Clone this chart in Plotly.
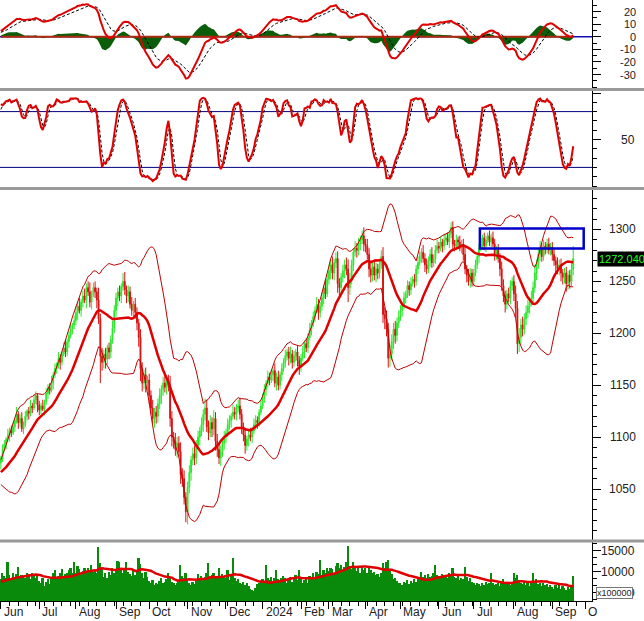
import numpy as np
import pandas as pd
import plotly.graph_objects as go

# ------------------------------------------------------------------ data
# daily closes (index points); warm-up bars precede the visible window
close_warmup = [1050, 1046, 1040, 1044, 1052, 1048, 1055, 1047, 1043, 1049,
                1056, 1050, 1058, 1062, 1057, 1063, 1066, 1060, 1067, 1064,
                1069, 1061, 1056, 1063, 1060, 1067, 1064, 1071, 1066, 1059,
                1064, 1058, 1066, 1063, 1069, 1072, 1066, 1071, 1074, 1075]
close_2023_06 = [1079, 1088, 1093, 1098, 1102, 1106, 1104, 1110, 1116, 1122, 1114,
                 1118, 1108, 1112, 1120, 1125, 1123, 1130, 1128, 1136, 1140, 1131]
close_2023_07 = [1126, 1130, 1127, 1134, 1142, 1148, 1145, 1152, 1160, 1166, 1170,
                 1176, 1172, 1180, 1186, 1182, 1192, 1198, 1204, 1208, 1212]
close_2023_08 = [1220, 1226, 1222, 1230, 1236, 1232, 1244, 1240, 1230, 1238, 1244, 1240,
                 1232, 1214, 1178, 1172, 1180, 1175, 1186, 1182, 1194, 1205, 1222]
close_2023_09 = [1234, 1240, 1236, 1245, 1250, 1242, 1236, 1240, 1228, 1222,
                 1228, 1220, 1210, 1196, 1166, 1152, 1160, 1152, 1155]
close_2023_10 = [1140, 1128, 1118, 1124, 1120, 1132, 1140, 1146, 1152, 1148, 1154,
                 1150, 1118, 1100, 1096, 1088, 1094, 1086, 1064, 1060, 1042, 1028]
close_2023_11 = [1052, 1066, 1078, 1084, 1080, 1092, 1100, 1106, 1112, 1122, 1128,
                 1110, 1104, 1114, 1108, 1118, 1096, 1088, 1080, 1086, 1094, 1100]
close_2023_12 = [1104, 1112, 1116, 1120, 1124, 1122, 1128, 1130, 1122, 1110, 1102,
                 1092, 1098, 1102, 1100, 1106, 1112, 1116, 1114, 1124, 1130]
close_2024_01 = [1138, 1146, 1152, 1158, 1155, 1160, 1164, 1152, 1158, 1150, 1160,
                 1166, 1172, 1178, 1182, 1176, 1180, 1172, 1178, 1182, 1174, 1168]
close_2024_02 = [1176, 1182, 1190, 1186, 1196, 1204, 1210, 1216, 1222, 1228, 1220,
                 1226, 1234, 1244, 1238, 1252]
close_2024_03 = [1260, 1266, 1258, 1268, 1272, 1248, 1244, 1254, 1260, 1266, 1262,
                 1244, 1252, 1266, 1278, 1282, 1280, 1286, 1290, 1294, 1286]
close_2024_04 = [1284, 1276, 1262, 1256, 1264, 1256, 1262, 1258, 1266, 1274,
                 1218, 1214, 1204, 1176, 1180, 1192, 1204, 1198, 1210, 1216]
close_2024_05 = [1222, 1226, 1234, 1238, 1246, 1242, 1248, 1252, 1250, 1262, 1268,
                 1274, 1278, 1272, 1266, 1262, 1270, 1276, 1268, 1272, 1280, 1284]
close_2024_06 = [1282, 1288, 1284, 1290, 1292, 1288, 1296, 1302, 1286, 1284,
                 1290, 1288, 1282, 1286, 1276, 1262, 1256, 1250, 1258, 1250]
close_2024_07 = [1258, 1266, 1274, 1282, 1286, 1292, 1284, 1290, 1294, 1288, 1292, 1286,
                 1276, 1280, 1272, 1262, 1246, 1236, 1228, 1238, 1234, 1246, 1250]
close_2024_08 = [1238, 1224, 1190, 1196, 1208, 1204, 1214, 1220, 1226, 1230, 1234,
                 1244, 1258, 1266, 1276, 1282, 1274, 1284, 1282, 1286, 1280, 1283]
close_2024_09 = [1276, 1270, 1266, 1262, 1266, 1258, 1254, 1258, 1248, 1256, 1250,
                 1262, 1272.04]

# intraday wick beyond the candle body (points): upper / lower
uw_warmup = [4, 3, 5, 2, 6, 3, 4, 5, 3, 2, 4, 6, 3, 5, 4, 2, 5, 3, 4, 6,
             3, 5, 4, 2, 6, 3, 4, 5, 3, 4, 2, 5, 4, 3, 6, 4, 3, 5, 2, 4]
lw_warmup = [3, 5, 2, 6, 4, 3, 5, 2, 4, 6, 3, 2, 5, 4, 3, 6, 2, 4, 5, 3,
             4, 2, 6, 3, 5, 4, 2, 3, 6, 4, 5, 3, 2, 4, 3, 5, 4, 2, 3, 5]
uw_2023_06 = [3, 5, 4, 2, 6, 3, 5, 4, 2, 7, 3, 4, 6, 3, 5, 2, 4, 6, 3, 5, 4, 2]
lw_2023_06 = [6, 3, 2, 5, 3, 6, 4, 2, 5, 3, 6, 4, 3, 5, 2, 4, 6, 3, 5, 2, 4, 7]
uw_2023_07 = [4, 3, 6, 2, 5, 3, 4, 7, 3, 5, 2, 6, 4, 3, 5, 8, 3, 4, 6, 2, 5]
lw_2023_07 = [5, 4, 2, 6, 3, 5, 4, 2, 6, 3, 5, 4, 7, 3, 2, 5, 4, 6, 3, 5, 4]
uw_2023_08 = [6, 4, 8, 3, 5, 7, 4, 6, 9, 3, 5, 6, 4, 12, 5, 8, 4, 6, 3, 5, 4, 7, 5]
lw_2023_08 = [4, 7, 3, 6, 5, 3, 8, 4, 5, 7, 3, 6, 8, 5, 26, 8, 6, 9, 5, 7, 6, 4, 5]
uw_2023_09 = [5, 4, 6, 3, 8, 9, 4, 6, 5, 7, 3, 6, 5, 4, 8, 6, 5, 7, 4]
lw_2023_09 = [6, 8, 5, 7, 4, 5, 7, 6, 4, 5, 8, 6, 7, 9, 12, 8, 6, 9, 7]
uw_2023_10 = [6, 5, 8, 4, 6, 5, 7, 4, 6, 8, 5, 6, 9, 7, 5, 8, 6, 7, 9, 6, 8, 5]
lw_2023_10 = [8, 6, 5, 9, 7, 6, 5, 8, 6, 5, 7, 6, 8, 9, 7, 6, 8, 5, 9, 8, 7, 10]
uw_2023_11 = [5, 7, 4, 6, 8, 5, 6, 4, 7, 5, 9, 8, 6, 7, 5, 8, 6, 7, 5, 6, 4, 6]
lw_2023_11 = [12, 6, 8, 5, 7, 6, 4, 8, 5, 7, 6, 5, 7, 4, 8, 6, 9, 7, 6, 8, 5, 6]
uw_2023_12 = [4, 6, 5, 3, 7, 5, 4, 6, 8, 5, 4, 6, 3, 5, 7, 4, 6, 5, 4, 3, 5]
lw_2023_12 = [6, 4, 5, 7, 3, 5, 6, 4, 5, 7, 6, 8, 5, 7, 4, 6, 3, 5, 6, 4, 3]
uw_2024_01 = [4, 5, 3, 6, 4, 5, 3, 7, 4, 6, 3, 5, 4, 6, 3, 5, 7, 4, 5, 3, 6, 4]
lw_2024_01 = [3, 5, 6, 4, 5, 3, 6, 4, 7, 5, 4, 6, 3, 5, 4, 7, 5, 6, 4, 5, 6, 8]
uw_2024_02 = [4, 6, 3, 5, 4, 6, 3, 5, 4, 7, 5, 4, 6, 3, 8, 5]
lw_2024_02 = [5, 3, 6, 4, 5, 3, 6, 4, 5, 3, 7, 5, 4, 6, 5, 3]
uw_2024_03 = [6, 5, 8, 4, 6, 7, 5, 4, 6, 5, 7, 9, 6, 5, 4, 7, 5, 6, 4, 5, 8]
lw_2024_03 = [5, 8, 6, 7, 5, 9, 8, 6, 5, 7, 6, 14, 7, 5, 6, 4, 7, 5, 6, 4, 7]
uw_2024_04 = [5, 7, 6, 8, 5, 7, 6, 5, 4, 6, 9, 7, 8, 6, 9, 7, 6, 8, 5, 6]
lw_2024_04 = [6, 5, 8, 7, 6, 5, 7, 6, 5, 4, 8, 10, 7, 9, 8, 6, 7, 8, 6, 5]
uw_2024_05 = [5, 4, 6, 3, 5, 4, 6, 3, 5, 4, 6, 5, 4, 7, 5, 6, 4, 5, 7, 4, 5, 6]
lw_2024_05 = [4, 6, 3, 5, 4, 6, 5, 3, 6, 4, 5, 3, 6, 4, 7, 5, 4, 6, 5, 4, 5, 3]
uw_2024_06 = [4, 5, 3, 6, 4, 5, 3, 5, 6, 4, 5, 3, 6, 4, 5, 7, 4, 6, 5, 4]
lw_2024_06 = [5, 3, 6, 4, 5, 3, 6, 4, 7, 5, 4, 6, 3, 5, 6, 5, 7, 4, 6, 5]
uw_2024_07 = [4, 5, 3, 4, 6, 3, 5, 4, 3, 5, 4, 6, 5, 4, 6, 5, 7, 6, 5, 4, 6, 5, 4]
lw_2024_07 = [5, 3, 4, 6, 3, 5, 4, 6, 3, 4, 5, 3, 6, 5, 4, 7, 5, 6, 8, 5, 4, 6, 5]
uw_2024_08 = [6, 8, 7, 9, 6, 8, 5, 7, 6, 5, 7, 6, 8, 5, 6, 7, 5, 6, 4, 5, 6, 4]
lw_2024_08 = [7, 9, 10, 8, 6, 7, 5, 6, 5, 7, 4, 6, 5, 7, 4, 6, 5, 4, 6, 5, 4, 5]
uw_2024_09 = [5, 6, 4, 7, 5, 6, 4, 5, 6, 4, 5, 8, 12]
lw_2024_09 = [6, 5, 7, 5, 6, 8, 7, 6, 8, 6, 7, 5, 6]

# volume, in units of 100000 shares
vol_warmup = [7000, 7800, 6800, 7400, 8200, 7600, 7000, 8000, 7200, 7600,
              8400, 7400, 7800, 7000, 7600, 8200, 7400, 7800, 8000]
vol_2023_06 = [8200, 9800, 9000, 8600, 12400, 9200, 8400, 9600, 8800, 9400, 11100,
               8600, 9200, 9000, 8400, 9600, 9400, 8200, 9800, 9000, 8600, 9200]
vol_2023_07 = [7800, 7200, 8400, 6600, 7600, 8200, 7000, 8800, 9600, 10300, 8400,
               9000, 9800, 10600, 8600, 9400, 9800, 10400, 11000, 9600, 12200]
vol_2023_08 = [9800, 11400, 10600, 9400, 10200, 10800, 9600, 11000, 10200, 11600, 10000, 10400,
               9800, 16000, 12000, 10600, 8800, 9600, 8400, 10000, 9200, 10800, 9600]
vol_2023_09 = [10200, 12600, 12400, 10400, 9800, 11000, 12200, 10000, 9400, 9000,
               10600, 9200, 10400, 13300, 11800, 9800, 8600, 10000, 8800]
vol_2023_10 = [7800, 7200, 8000, 6800, 7400, 7000, 7800, 8400, 7200, 7600, 8200,
               9800, 8800, 7600, 7200, 6800, 7400, 8000, 11700, 9000, 8400, 9600]
vol_2023_11 = [8200, 7400, 6800, 7600, 7000, 7800, 9400, 8400, 9000, 8000, 8800,
               9600, 12100, 8600, 9200, 9800, 8400, 9000, 11000, 8600, 9400, 8800]
vol_2023_12 = [8400, 10300, 8000, 9000, 13300, 8600, 7800, 8200, 7400, 7000, 7600,
               6800, 7200, 6600, 6000, 5600, 5400, 6200, 7000, 7400, 7800]
vol_2024_01 = [8200, 7800, 11600, 8400, 8000, 8800, 7600, 8600, 10400, 8200, 7800,
               8400, 9000, 8600, 7400, 8200, 8800, 7600, 8400, 9200, 8000, 10500]
vol_2024_02 = [8600, 7400, 8000, 8800, 7200, 9000, 8400, 9600, 8800, 10000, 9400,
               12800, 9200, 10400, 9800, 10800]
vol_2024_03 = [10200, 11000, 10600, 9600, 11400, 12000, 10800, 11600, 10400, 11200, 12200,
               16100, 11400, 10600, 12400, 11000, 10200, 10800, 9800, 11200, 10400]
vol_2024_04 = [10800, 9800, 11200, 10400, 9600, 10000, 9200, 9400, 8800, 9600,
               12000, 11000, 12300, 12800, 10400, 9400, 8200, 8600, 7800, 7400]
vol_2024_05 = [7200, 6800, 7600, 7400, 8000, 7000, 7800, 7400, 8200, 7600, 8600,
               8400, 10000, 8800, 9200, 8600, 9400, 8800, 9000, 9800, 11600, 9200]
vol_2024_06 = [9000, 8600, 9400, 8800, 9200, 8400, 9600, 9000, 11000, 8800,
               8400, 9200, 8000, 8600, 8200, 11200, 8800, 7800, 8400, 7600]
vol_2024_07 = [7200, 6800, 7400, 7000, 6600, 7200, 6800, 7600, 7000, 7400, 9800, 7200,
               6800, 7000, 7400, 6600, 7800, 8200, 7400, 7000, 7600, 6800, 7200]
vol_2024_08 = [9800, 8600, 9200, 8000, 7400, 7000, 7600, 6800, 7200, 6600, 7400,
               9800, 7800, 8200, 7000, 7400, 6600, 7200, 6800, 7000, 6400, 6800]
vol_2024_09 = [6400, 6000, 6800, 6200, 7000, 5800, 6600, 6200, 5600, 6400, 6000,
               6800, 9000]

month_labels = ["Jun", "Jul", "Aug", "Sep", "Oct", "Nov", "Dec", "2024", "Feb",
                "Mar", "Apr", "May", "Jun", "Jul", "Aug", "Sep", "O"]
sep_days_after_last_bar = 6

macd_tick_values = [20, 10, 0, -10, -20, -30]
stoch_tick_values = [50]
price_tick_values = [1300, 1250, 1200, 1150, 1100, 1050]
volume_tick_values = [15000, 10000, 5000]
stoch_levels = [80, 20]
box_bars = [274.5, 334]          # highlighted resistance zone (bar index)
box_prices = [1281.7, 1301]
last_price_text = "1272.040"

# ------------------------------------------------------------------ series
close_months = [close_2023_06, close_2023_07, close_2023_08, close_2023_09, close_2023_10,
                close_2023_11, close_2023_12, close_2024_01, close_2024_02, close_2024_03,
                close_2024_04, close_2024_05, close_2024_06, close_2024_07, close_2024_08,
                close_2024_09]
uw_months = [uw_2023_06, uw_2023_07, uw_2023_08, uw_2023_09, uw_2023_10, uw_2023_11,
             uw_2023_12, uw_2024_01, uw_2024_02, uw_2024_03, uw_2024_04, uw_2024_05,
             uw_2024_06, uw_2024_07, uw_2024_08, uw_2024_09]
lw_months = [lw_2023_06, lw_2023_07, lw_2023_08, lw_2023_09, lw_2023_10, lw_2023_11,
             lw_2023_12, lw_2024_01, lw_2024_02, lw_2024_03, lw_2024_04, lw_2024_05,
             lw_2024_06, lw_2024_07, lw_2024_08, lw_2024_09]
vol_months = [vol_2023_06, vol_2023_07, vol_2023_08, vol_2023_09, vol_2023_10, vol_2023_11,
              vol_2023_12, vol_2024_01, vol_2024_02, vol_2024_03, vol_2024_04, vol_2024_05,
              vol_2024_06, vol_2024_07, vol_2024_08, vol_2024_09]

main_close = [v for m in close_months for v in m]
main_uw = [v for m in uw_months for v in m]
main_lw = [v for m in lw_months for v in m]
main_vol = [v for m in vol_months for v in m]
N = len(main_close)
month_starts = list(np.cumsum([0] + [len(m) for m in close_months]))
month_starts[-1] = N + sep_days_after_last_bar

c = pd.Series(close_warmup + main_close, dtype=float)
uw = pd.Series(uw_warmup + main_uw, dtype=float)
lw = pd.Series(lw_warmup + main_lw, dtype=float)
o = c.shift(1).fillna(c.iloc[0])
h = pd.concat([o, c], axis=1).max(axis=1) + uw
l = pd.concat([o, c], axis=1).min(axis=1) - lw

ema12 = c.ewm(span=12, adjust=False).mean()
ema26 = c.ewm(span=26, adjust=False).mean()
macd = ema12 - ema26
signal = macd.ewm(span=9, adjust=False).mean()
hist = macd - signal

mid = c.rolling(20).mean()
sd = c.rolling(20).std(ddof=0)
upper = mid + 2 * sd
lower = mid - 2 * sd

ll = l.rolling(14).min()
hh = h.rolling(14).max()
raw_k = (c - ll) / (hh - ll) * 100
k = raw_k.rolling(3).mean()
d = k.rolling(3).mean()

v = pd.Series(vol_warmup + main_vol, dtype=float)
vma = v.rolling(20).mean()


def tail(s):
    return s.iloc[-N:].to_numpy()


x = np.arange(N)

# ------------------------------------------------------------------ geometry
H_PLOT = 601.0
W_PLOT = 592.0


def py(p):
    return 1 - p / H_PLOT


GREEN = "#2ee62e"
RED = "#e00000"

fig = go.Figure()

# MACD panel
fig.add_trace(go.Scatter(x=x, y=tail(hist), mode="lines", line=dict(width=0, color="#0a5e0a"),
                         fill="tozeroy", fillcolor="#0a5e0a", yaxis="y", hoverinfo="skip"))
fig.add_trace(go.Scatter(x=x, y=np.zeros(N), mode="lines", line=dict(color="#b02a10", width=2),
                         yaxis="y", hoverinfo="skip"))
fig.add_trace(go.Scatter(x=x, y=tail(signal), mode="lines",
                         line=dict(color="black", width=1, dash="3px,2px"), yaxis="y"))
fig.add_trace(go.Scatter(x=x, y=tail(macd), mode="lines", line=dict(color=RED, width=2), yaxis="y"))

# Stochastic panel
fig.add_trace(go.Scatter(x=x, y=tail(d), mode="lines",
                         line=dict(color="black", width=1, dash="3px,2px"), yaxis="y2"))
fig.add_trace(go.Scatter(x=x, y=tail(k), mode="lines", line=dict(color=RED, width=2), yaxis="y2"))

# Price panel
fig.add_trace(go.Scatter(x=x, y=tail(upper), mode="lines", line=dict(color="#c00000", width=1), yaxis="y3"))
fig.add_trace(go.Scatter(x=x, y=tail(lower), mode="lines", line=dict(color="#c00000", width=1), yaxis="y3"))
fig.add_trace(go.Candlestick(x=x, open=tail(o), high=tail(h), low=tail(l), close=tail(c),
                             increasing=dict(line=dict(color=GREEN, width=1), fillcolor=GREEN),
                             decreasing=dict(line=dict(color="#d81010", width=1), fillcolor="#d81010"),
                             whiskerwidth=0, yaxis="y3", hoverinfo="skip"))
fig.add_trace(go.Scatter(x=x, y=tail(mid), mode="lines", line=dict(color=RED, width=2.5), yaxis="y3"))

# Volume panel
fig.add_trace(go.Bar(x=x, y=tail(v), marker=dict(color="#0a8a0a", line=dict(width=0)),
                     width=1.0, yaxis="y4", hoverinfo="skip"))
fig.add_trace(go.Scatter(x=x, y=tail(vma), mode="lines", line=dict(color=RED, width=2.5), yaxis="y4"))

# ------------------------------------------------------------------ axes
px_per_bar = 1.745
x_range = [-0.5, -0.5 + W_PLOT / px_per_bar]

axis_common = dict(side="right", anchor="x", showgrid=False, zeroline=False,
                   showline=True, linecolor="black", linewidth=1,
                   ticks="outside", tickcolor="black", ticklen=8, showticklabels=False,
                   fixedrange=True)

macd_dom = [py(88), 1.0]
macd_rng = [-(88 - 36.7) / 1.26, 36.7 / 1.26]
st_dom = [py(187), py(90)]
st_rng = [(186 - 187) / 0.93, (186 - 90) / 0.93]
pr_dom = [py(539.5), py(189.5)]
pr_rng = [1300 - (539.5 - 229.5) / 1.038, 1300 - (189.5 - 229.5) / 1.038]
vo_dom = [0.0, py(542)]
vo_rng = [10000 + (571.7 - 601) * 238.1, 10000 + (571.7 - 542) * 238.1]

fig.update_layout(
    width=644, height=621,
    margin=dict(l=0, r=52, t=0, b=20),
    paper_bgcolor="white", plot_bgcolor="white",
    showlegend=False, hovermode=False, bargap=0,
    font=dict(family="Liberation Sans, Arial, sans-serif", size=12, color="#222"),
    xaxis=dict(range=x_range, anchor="y4", showgrid=False, zeroline=False,
               showline=True, linecolor="black", linewidth=1,
               tickmode="array", tickvals=month_starts, ticks="outside", ticklen=7,
               tickcolor="black", showticklabels=False, rangeslider=dict(visible=False),
               minor=dict(ticks="outside", ticklen=4, tickcolor="black", dtick=5, tick0=0),
               fixedrange=True),
    yaxis=dict(domain=macd_dom, range=macd_rng, tickmode="array", tickvals=macd_tick_values,
               minor=dict(ticks="outside", ticklen=4, tickcolor="black", dtick=5, tick0=0),
               **axis_common),
    yaxis2=dict(domain=st_dom, range=st_rng, tickmode="array", tickvals=[50, 100],
                minor=dict(ticks="outside", ticklen=4, tickcolor="black", dtick=10, tick0=0),
                **axis_common),
    yaxis3=dict(domain=pr_dom, range=pr_rng, tickmode="array",
                tickvals=[1050, 1100, 1150, 1200, 1250, 1300],
                minor=dict(ticks="outside", ticklen=4, tickcolor="black", dtick=10, tick0=0),
                **axis_common),
    yaxis4=dict(domain=vo_dom, range=vo_rng, tickmode="array", tickvals=volume_tick_values,
                minor=dict(ticks="outside", ticklen=4, tickcolor="black", dtick=5000 / 3, tick0=0),
                **axis_common),
)

shapes = []
for p in [89.5, 188.5, 541]:
    shapes.append(dict(type="line", xref="paper", yref="paper", x0=0, x1=644 / W_PLOT,
                       y0=py(p), y1=py(p), line=dict(color="#9a9a9a", width=3), layer="above"))
shapes.append(dict(type="line", xref="paper", yref="y", x0=0, x1=1, y0=0, y1=0,
                   line=dict(color="#1010b0", width=1.5), layer="below"))
for lv in stoch_levels:
    shapes.append(dict(type="line", xref="paper", yref="y2", x0=0, x1=1, y0=lv, y1=lv,
                       line=dict(color="#000080", width=1), layer="below"))
shapes.append(dict(type="rect", xref="x", yref="y3", x0=box_bars[0], x1=box_bars[1],
                   y0=box_prices[0], y1=box_prices[1],
                   line=dict(color="#0000cc", width=2.5), fillcolor="rgba(0,0,0,0)", layer="above"))
fig.update_layout(shapes=shapes)

ann = []
LBL_X = 637 / W_PLOT
for t in macd_tick_values:
    ann.append(dict(x=LBL_X, xref="paper", y=t, yref="y", text=str(t), showarrow=False,
                    xanchor="right", yanchor="middle", borderpad=0, font=dict(size=11, color="#222")))
for t in stoch_tick_values:
    ann.append(dict(x=LBL_X, xref="paper", y=t, yref="y2", text=str(t), showarrow=False,
                    xanchor="right", yanchor="middle", font=dict(size=12, color="#222")))
for t in price_tick_values:
    ann.append(dict(x=LBL_X + 1 / W_PLOT, xref="paper", y=t, yref="y3", text=str(t), showarrow=False,
                    xanchor="right", yanchor="middle", font=dict(size=12, color="#222")))
for t in volume_tick_values:
    ann.append(dict(x=LBL_X, xref="paper", y=t, yref="y4", text=str(t), showarrow=False,
                    xanchor="right", yanchor="middle", font=dict(size=12, color="#222")))
ann.append(dict(x=614.5 / W_PLOT, xref="paper", y=py(592.5), yref="paper", text="x100000",
                showarrow=False, xanchor="center", yanchor="middle", bgcolor="white",
                bordercolor="#777", borderwidth=1, borderpad=0, font=dict(size=9, color="#222")))
ann.append(dict(x=597 / W_PLOT, xref="paper", y=main_close[-1], yref="y3", text=last_price_text,
                showarrow=False, xanchor="left", yanchor="middle", bgcolor="black", borderpad=1,
                font=dict(size=11, color="#20ff20")))
for lab, s in zip(month_labels, month_starts):
    ann.append(dict(x=s, xref="x", y=py(612), yref="paper", text=lab, showarrow=False,
                    xanchor="left", yanchor="middle", xshift=1, font=dict(size=12, color="#222")))
fig.update_layout(annotations=ann)

fig.write_html("out.html")
